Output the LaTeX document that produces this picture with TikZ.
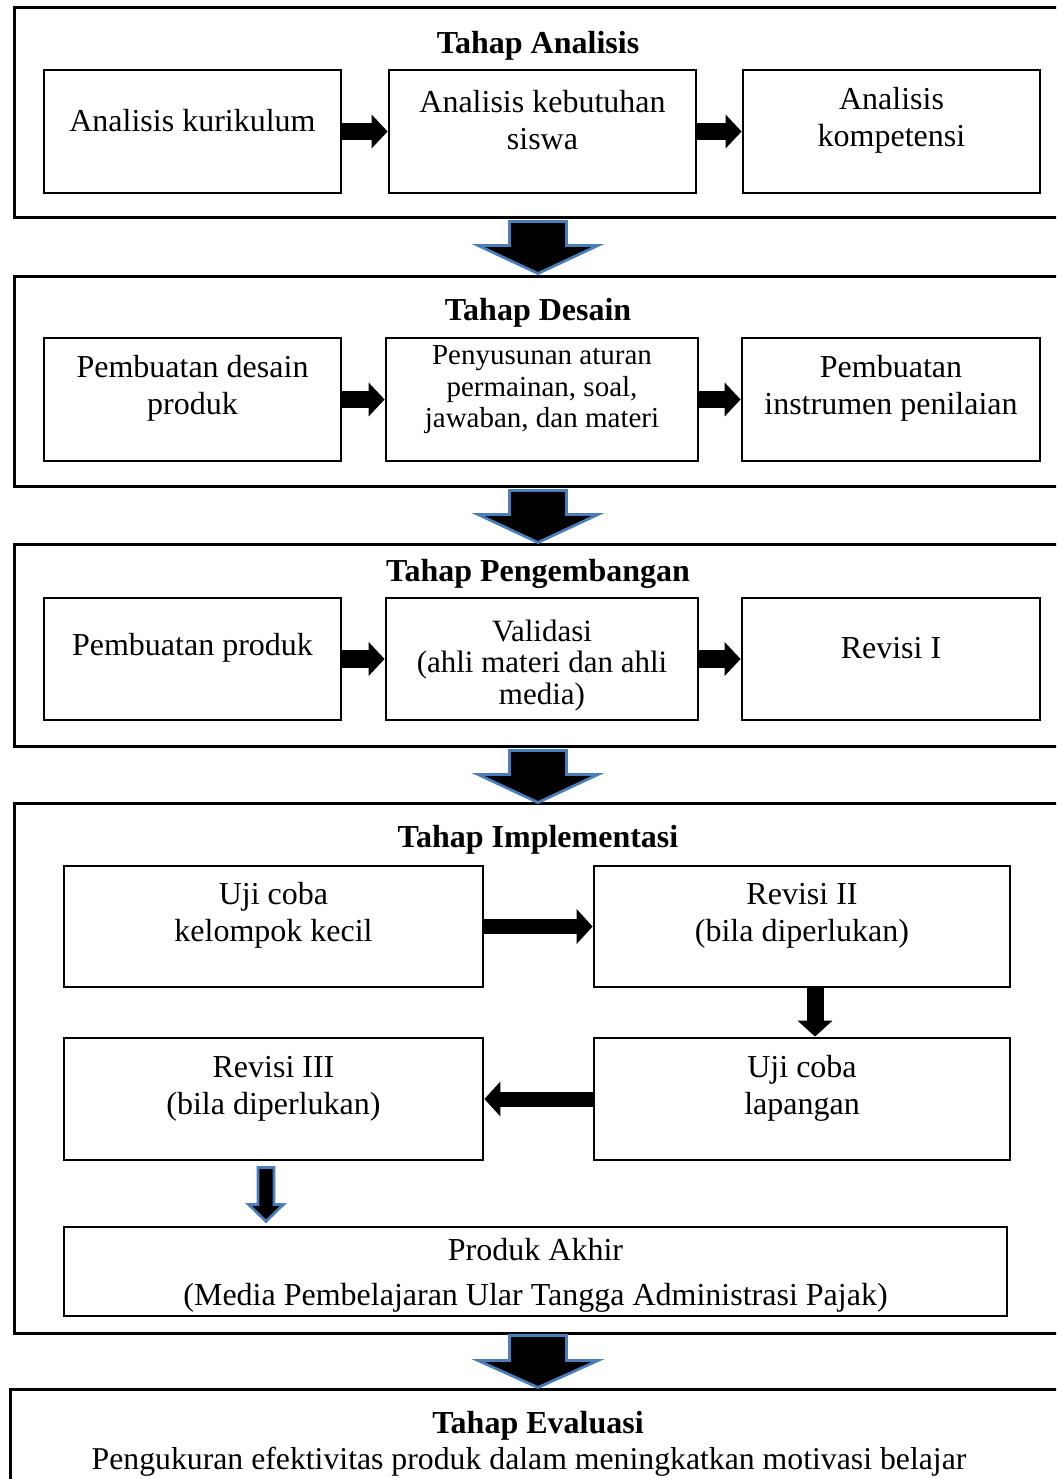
\documentclass[tikz,border=0pt]{standalone}
\usepackage{fontspec}
\setmainfont{Liberation Serif}
\usetikzlibrary{fit,calc,arrows.meta}
\definecolor{birupanah}{RGB}{74,126,187}
\tikzset{
  bingkai/.style={draw, line width=1.2pt, inner sep=0pt},
  kotak/.style={draw, line width=1.1pt, inner sep=0pt, align=center, font=\fontsize{12.8}{14.8}\selectfont},
  kotakkecil/.style={kotak, font=\fontsize{11.6}{12.6}\selectfont},
  judul/.style={font=\fontsize{12.8}{14.8}\selectfont\bfseries},
  teks/.style={font=\fontsize{12.7}{14.8}\selectfont},
  panahbiru/.style={fill=black, draw=birupanah, line width=1.1pt, line join=miter},
  panahkecil/.style={line width=7pt, -{Triangle[length=6.4pt,width=13.2pt]}},
  panahsedang/.style={line width=6pt, -{Triangle[length=6.4pt,width=13.6pt]}}
}
\newcommand{\panahturun}[5]{\filldraw[panahbiru] #1 ++(-#2,0) -- ++(0,#4) -- ++(#2-#3,0) -- ++(#3,#5) -- ++(#3,-#5) -- ++(#2-#3,0) -- ++(0,-#4) -- cycle;}
\begin{document}
\begin{tikzpicture}[x=0.4pt, y=-0.4pt]
  \useasboundingbox (0,0) rectangle (1056,1479);
  \clip (0,0) rectangle (1056,1479);
  \node[bingkai, fit={(14,8) (1075,217)}] (s1) {};
  \node[bingkai, fit={(14,276) (1075,486)}] (s2) {};
  \node[bingkai, fit={(14,544) (1075,746)}] (s3) {};
  \node[bingkai, fit={(14,803) (1075,1333)}] (s4) {};
  \node[bingkai, fit={(10,1389) (1075,1520)}] (s5) {};
  \node[judul] (t1) at (538,46) {Tahap Analisis};
  \node[judul] (t2) at (538,313) {Tahap Desain};
  \node[judul] (t3) at (538,574) {Tahap Pengembangan};
  \node[judul] (t4) at (538,840) {Tahap Implementasi};
  \node[judul] (t5) at (538,1426) {Tahap Evaluasi};
  \node[teks] (e5) at (529,1462) {Pengukuran efektivitas produk dalam meningkatkan motivasi belajar};
  \node[kotak, fit={(44,70) (341,193)}] (a1) {Analisis kurikulum};
  \node[kotak, fit={(389,70) (696,193)}] (a2) {Analisis kebutuhan\\siswa};
  \node[kotak, fit={(743,70) (1040,193)}] (a3) {Analisis\\kompetensi};
  \node[kotak, fit={(44,338) (341,461)}] (b1) {Pembuatan desain\\produk};
  \node[kotakkecil, fit={(386,338) (698,461)}] (b2) {Penyusunan aturan\\permainan, soal,\\jawaban, dan materi};
  \node[kotak, fit={(742,338) (1040,461)}] (b3) {Pembuatan\\instrumen penilaian};
  \node[kotak, fit={(44,598) (341,720)}] (c1) {Pembuatan produk};
  \node[kotak, fit={(386,598) (698,720)}, label={[align=center, yshift=-2.5pt, font=\fontsize{12.4}{12.6}\selectfont]center:{Validasi\\(ahli materi dan ahli\\media)}}] (c2) {};
  \node[kotak, fit={(742,598) (1040,720)}] (c3) {Revisi I};
  \node[kotak, fit={(64,866) (483,987)}] (d1) {Uji coba\\kelompok kecil};
  \node[kotak, fit={(594,866) (1010,987)}] (d2) {Revisi II\\(bila diperlukan)};
  \node[kotak, fit={(594,1038) (1010,1160)}] (d3) {Uji coba\\lapangan};
  \node[kotak, fit={(64,1038) (483,1160)}] (d4) {Revisi III\\(bila diperlukan)};
  \node[kotak, fit={(64,1227) (1007,1316)}, label={[align=center, yshift=-1.5pt, font=\fontsize{12.8}{18}\selectfont]center:{Produk Akhir\\(Media Pembelajaran Ular Tangga Administrasi Pajak)}}] (d5) {};
  \draw[panahkecil] (a1) -- (a2);
  \draw[panahkecil] (a2) -- (a3);
  \draw[panahkecil] (b1) -- (b2);
  \draw[panahkecil] (b2) -- (b3);
  \draw[panahkecil] (c1) -- (c2);
  \draw[panahkecil] (c2) -- (c3);
  \draw[panahsedang] (d1) -- (d2);
  \draw[panahsedang, line width=6.8pt] ([xshift=5.2pt]d2.south) -- ([xshift=5.2pt]d3.north);
  \draw[panahsedang] (d3) -- (d4);
  \panahturun{($(t1 |- s1.south)+(0,3)$)}{28.5}{60}{24}{28}
  \panahturun{($(t2 |- s2.south)+(0,3)$)}{28.5}{60}{24}{28}
  \panahturun{($(t3 |- s3.south)+(0,3)$)}{28.5}{60}{24}{28}
  \panahturun{($(t4 |- s4.south)+(0,1)$)}{28.5}{60}{25}{27}
  \panahturun{($(d4.south)+(-7.5,6)$)}{8}{17.5}{37}{17}
\end{tikzpicture}
\end{document}
